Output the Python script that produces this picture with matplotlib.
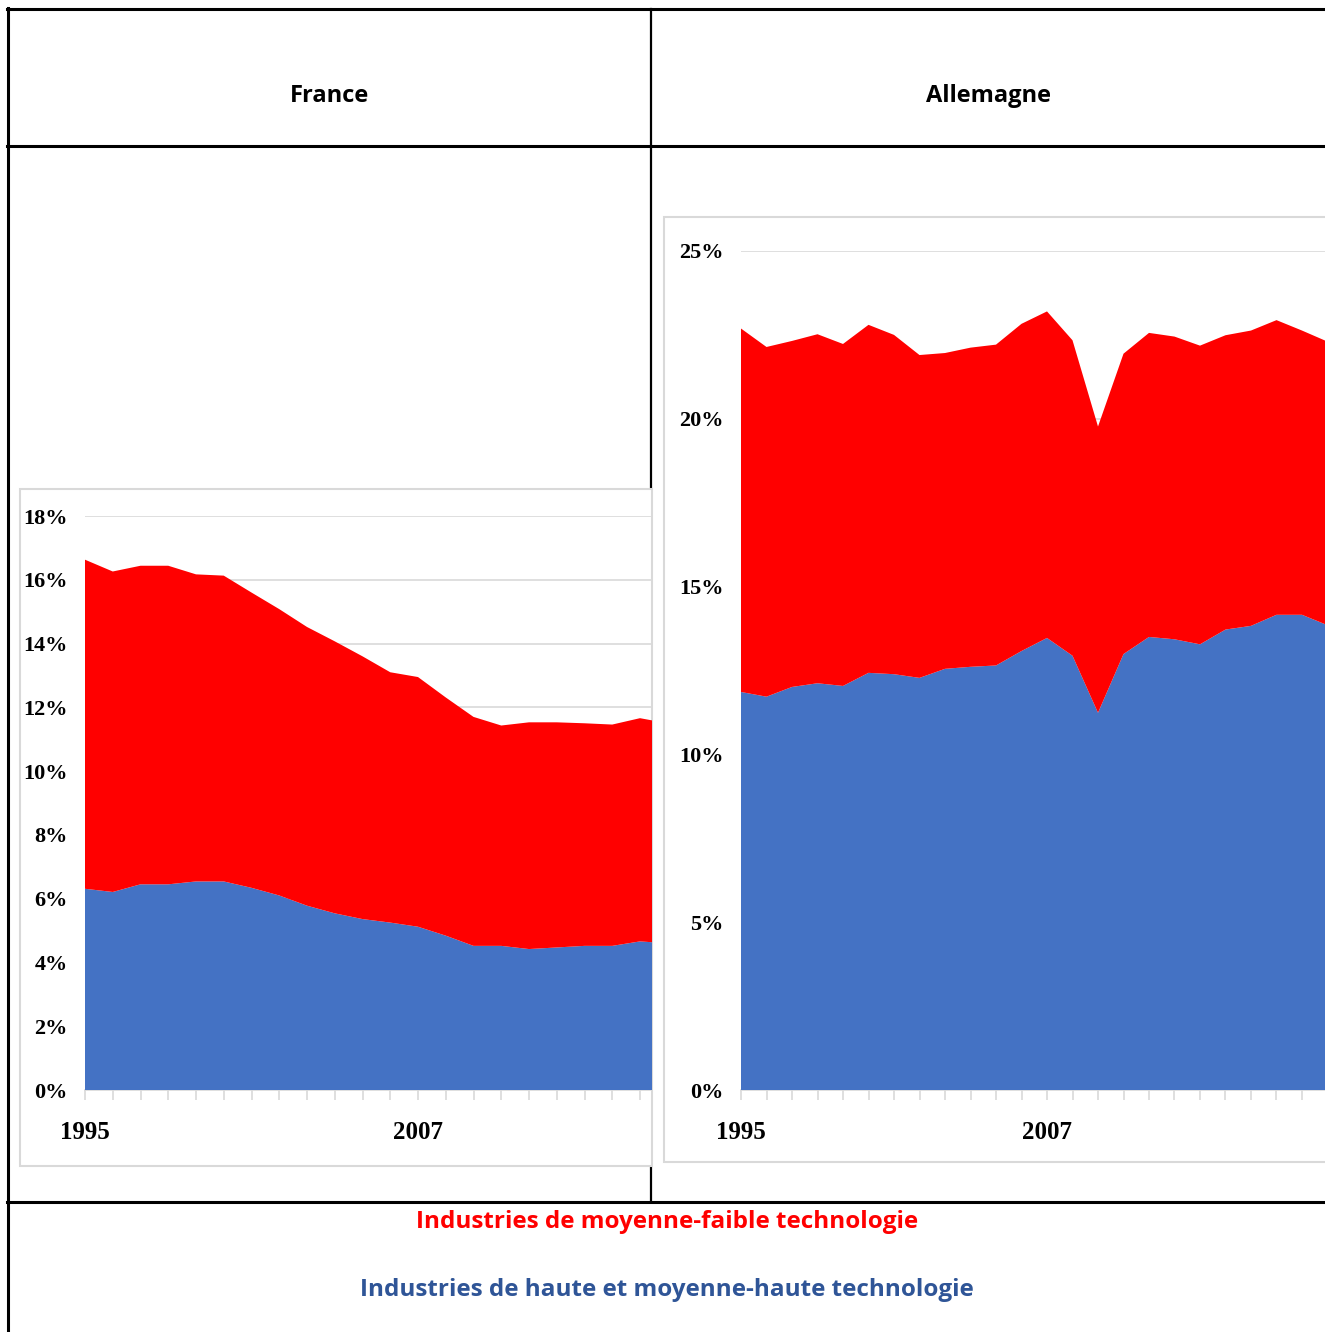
import matplotlib
matplotlib.use("Agg")
import matplotlib.pyplot as plt
from matplotlib.lines import Line2D
from matplotlib.patches import Rectangle
from matplotlib.ticker import FuncFormatter, FixedLocator

W, H = 1325, 1332

# France, part dans la valeur ajoutee (%)
fr_years = list(range(1995, 2017))
fr_haute = [6.31, 6.21, 6.45, 6.45, 6.54, 6.54, 6.34, 6.10, 5.78, 5.54, 5.36,
            5.25, 5.12, 4.84, 4.52, 4.52, 4.42, 4.47, 4.52, 4.52, 4.66, 4.60]
fr_faible = [10.32, 10.05, 9.99, 9.99, 9.63, 9.59, 9.26, 8.98, 8.74, 8.53, 8.24,
             7.85, 7.83, 7.47, 7.18, 6.91, 7.11, 7.06, 6.98, 6.94, 7.00, 6.90]

# Allemagne
de_years = list(range(1995, 2019))
de_haute = [11.86, 11.72, 12.01, 12.12, 12.04, 12.43, 12.39, 12.28, 12.55, 12.61,
            12.65, 13.08, 13.47, 12.94, 11.24, 12.99, 13.50, 13.43, 13.28, 13.72,
            13.83, 14.16, 14.16, 13.85]
de_faible = [10.83, 10.42, 10.31, 10.40, 10.19, 10.37, 10.11, 9.62, 9.41, 9.51,
             9.56, 9.75, 9.73, 9.40, 8.53, 8.95, 9.06, 9.02, 8.90, 8.77,
             8.80, 8.78, 8.47, 8.45]

BLUE = "#4472C4"
RED = "#FF0000"
GRID = "#D9D9D9"
lab_faible = "Industries de moyenne-faible technologie"
lab_haute = "Industries de haute et moyenne-haute technologie"


def fx(x):
    return x / W


def fy(y):
    return 1 - y / H


def rect(x0, y0, x1, y1):
    return [fx(x0), fy(y1), (x1 - x0) / W, (y1 - y0) / H]


def hline(fig, y, x0, x1, lw=2.2):
    fig.add_artist(Line2D([fx(x0), fx(x1)], [fy(y), fy(y)], color="black", lw=lw, zorder=1))


def vline(fig, x, y0, y1, lw=2.2):
    fig.add_artist(Line2D([fx(x), fx(x)], [fy(y0), fy(y1)], color="black", lw=lw, zorder=1))


def panel(fig, box, years, haute, faible, xmax, ymax, ystep):
    ax = fig.add_axes(box)
    ax.set_zorder(5)
    ax.set_facecolor("none")
    ax.stackplot(years, haute, faible, colors=[BLUE, RED], lw=0, zorder=3)
    ax.set_xticks(list(range(1995, 2020)), minor=True)
    ax.set_xticks([1995, 2007])
    ax.set_xticklabels(["1995", "2007"])
    ax.set_xlim(1995, xmax)
    ax.set_ylim(0, ymax)
    ax.yaxis.set_major_locator(FixedLocator(list(range(0, ymax + 1, ystep))))
    ax.yaxis.set_major_formatter(FuncFormatter(lambda v, p: "%d%%" % v))
    ax.grid(axis="y", color=GRID, lw=1.2, zorder=0)
    ax.set_axisbelow(True)
    for s in ["top", "right", "left"]:
        ax.spines[s].set_visible(False)
    ax.spines["bottom"].set_color(GRID)
    ax.spines["bottom"].set_linewidth(1.2)
    ax.tick_params(axis="x", which="both", direction="out", length=7, color=GRID, width=1.2)
    ax.tick_params(axis="x", which="major", pad=15, labelsize=18)
    ax.tick_params(axis="y", length=0, pad=12.5, labelsize=16)
    for t in ax.get_xticklabels() + ax.get_yticklabels():
        t.set_fontfamily("Liberation Serif")
        t.set_fontweight("bold")
    return ax


fig = plt.figure(figsize=(W / 100, H / 100), dpi=100)

# table grid
hline(fig, 9, 7, W)
hline(fig, 146, 7, W)
hline(fig, 1202, 7, W)
vline(fig, 8, 8, H)
vline(fig, 651, 9, 1202, lw=1.6)

fig.text(fx(330), fy(96), "France", ha="center", va="center",
         fontsize=17, fontweight="bold", family="Open Sans")
fig.text(fx(988), fy(96), "Allemagne", ha="center", va="center",
         fontsize=17, fontweight="bold", family="Open Sans")

# chart frames
fig.add_artist(Rectangle((fx(20), fy(1166)), (652 - 20) / W, (1166 - 489) / H,
                         transform=fig.transFigure, facecolor="white",
                         edgecolor=GRID, lw=1.5, zorder=2))
fig.add_artist(Rectangle((fx(664), fy(1162)), (1340 - 664) / W, (1162 - 217) / H,
                         transform=fig.transFigure, facecolor="white",
                         edgecolor=GRID, lw=1.5, zorder=2))

panel(fig, rect(85, 516, 652, 1090), fr_years, fr_haute, fr_faible,
      1995 + (652 - 85) / 27.75, 18, 2)
panel(fig, rect(741, 251, 1325, 1090), de_years, de_haute, de_faible,
      1995 + (1325 - 741) / 25.5, 25, 5)

fig.text(fx(667), fy(1222), lab_faible, ha="center", va="center",
         fontsize=17.5, fontweight="bold", family="Open Sans", color=RED)
fig.text(fx(667), fy(1290), lab_haute, ha="center", va="center",
         fontsize=17.5, fontweight="bold", family="Open Sans", color="#2F5597")

fig.savefig("out.png", dpi=100)
